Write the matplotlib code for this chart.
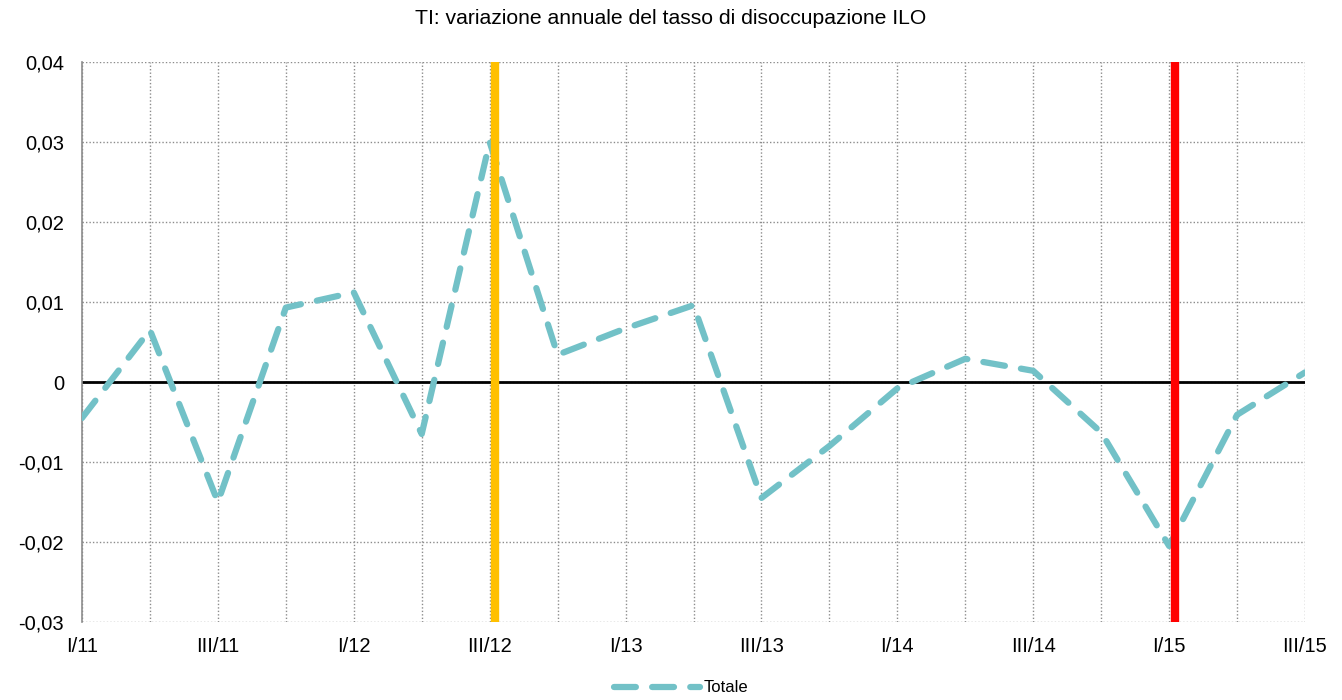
import matplotlib
matplotlib.use("Agg")
import matplotlib.pyplot as plt
from matplotlib.ticker import FuncFormatter, MultipleLocator

quarters = ["I/11", "II/11", "III/11", "IV/11", "I/12", "II/12", "III/12", "IV/12",
            "I/13", "II/13", "III/13", "IV/13", "I/14", "II/14", "III/14", "IV/14",
            "I/15", "II/15", "III/15"]
totale = [-0.0045, 0.0065, -0.015, 0.0093, 0.0112, -0.0065, 0.0300, 0.0034,
          0.0067, 0.0096, -0.0145, -0.0080, -0.0008, 0.0029, 0.0014, -0.0063,
          -0.0205, -0.0041, 0.0012]
orange_marker = "III/12"
red_marker = "I/15"

plt.rcParams['font.family'] = ['Liberation Sans', 'DejaVu Sans']

fig = plt.figure(figsize=(13.42, 7.0), dpi=100)
ax = fig.add_axes([82/1342, 1-622/700, (1305-82)/1342, (622-62)/700])

x = list(range(len(quarters)))
ax.set_xlim(0, len(quarters)-1)
ax.set_ylim(-0.03, 0.04)

ax.yaxis.set_major_locator(MultipleLocator(0.01))
ax.grid(True, which='major', color='#8c8c8c', linestyle=(0, (1, 1.5)), linewidth=1.0)
ax.set_axisbelow(True)

def yfmt(v, pos):
    if abs(v) < 1e-9:
        return "0"
    return f"{v:.2f}".replace(".", ",")
ax.yaxis.set_major_formatter(FuncFormatter(yfmt))
ax.set_xticks(x)
ax.set_xticklabels([q if i % 2 == 0 else "" for i, q in enumerate(quarters)])
ax.tick_params(axis='both', length=0, labelsize=14.5, colors='black')
ax.tick_params(axis='y', pad=13)
ax.tick_params(axis='x', pad=11)

for s in ['top', 'right', 'bottom']:
    ax.spines[s].set_visible(False)
ax.spines['left'].set_color('#8c8c8c')
ax.spines['left'].set_linewidth(1.2)

ax.axhline(0, color='black', linewidth=2, zorder=2)

off = 0.08
ax.axvline(quarters.index(orange_marker) + off, color='#FFC000', linewidth=6, zorder=4)
ax.axvline(quarters.index(red_marker) + off, color='#FF0000', linewidth=6, zorder=4)

line, = ax.plot(x, totale, color='#72C1C7', linewidth=4.5, dash_capstyle='round',
                linestyle=(0, (3.5, 2.6)), zorder=3, label='Totale')

fig.suptitle("TI: variazione annuale del tasso di disoccupazione ILO", y=1-18/700,
             fontsize=15.2, va='center')

leg = fig.legend(handles=[line], loc='center', bbox_to_anchor=(681/1342, 1-688/700),
                 frameon=False, fontsize=12, handlelength=5.2, handletextpad=0.2,
                 borderpad=0, borderaxespad=0)

fig.savefig("out.png", dpi=100)
